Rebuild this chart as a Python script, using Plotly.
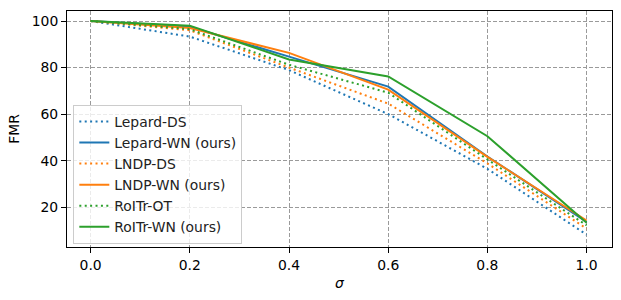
import plotly.graph_objects as go

sigma = [0.0, 0.2, 0.4, 0.6, 0.8, 1.0]
lepard_ds = [100, 93.3, 78.9, 60.0, 36.5, 8.2]
lepard_wn = [100, 97.5, 84.7, 71.8, 41.8, 13.7]
lndp_ds = [100, 96.0, 80.0, 64.5, 38.8, 10.8]
lndp_wn = [100, 97.0, 86.3, 70.5, 41.6, 14.3]
roitr_ot = [100, 96.5, 81.2, 69.2, 40.5, 12.2]
roitr_wn = [100, 98.0, 83.5, 76.2, 50.5, 13.3]

names = ["Lepard-DS", "Lepard-WN (ours)", "LNDP-DS", "LNDP-WN (ours)", "RoITr-OT", "RoITr-WN (ours)"]
series = [lepard_ds, lepard_wn, lndp_ds, lndp_wn, roitr_ot, roitr_wn]
colors = ["#1f77b4", "#1f77b4", "#ff7f0e", "#ff7f0e", "#2ca02c", "#2ca02c"]
dashes = ["2px,3.4px", "solid", "2px,3.4px", "solid", "2px,3.4px", "solid"]

FONT = "DejaVu Sans"
fig = go.Figure()
for n, s, c, d in zip(names, series, colors, dashes):
    fig.add_trace(go.Scatter(x=sigma, y=s, mode="lines", name=n,
                             line=dict(color=c, width=2, dash=d)))

axis_common = dict(
    showline=True, linecolor="black", linewidth=1, mirror=True,
    ticks="outside", ticklen=5, tickwidth=1, tickcolor="black",
    showgrid=True, gridcolor="#9a9a9a", gridwidth=0.6, griddash="4px,2px",
    zeroline=False, tickfont=dict(family=FONT, size=13.9, color="black"),
    automargin=False,
)
fig.update_xaxes(range=[-0.0476, 1.0512], tickvals=[0, 0.2, 0.4, 0.6, 0.8, 1.0],
                 ticktext=["0.0", "0.2", "0.4", "0.6", "0.8", "1.0"],
                 title=dict(text="<i>σ</i>", font=dict(family=FONT, size=13.9, color="black"), standoff=6),
                 **axis_common)
fig.update_yaxes(range=[2.9, 104.3], tickvals=[20, 40, 60, 80, 100],
                 title=dict(text="FMR", font=dict(family=FONT, size=13.9, color="black"), standoff=8),
                 **axis_common)

fig.update_layout(
    width=621, height=300,
    margin=dict(l=67, r=9, t=11, b=53, autoexpand=False),
    plot_bgcolor="white", paper_bgcolor="white",
    font=dict(family=FONT, size=13.9, color="black"),
    legend=dict(x=0.0116, y=0.013, xanchor="left", yanchor="bottom",
                bgcolor="rgba(255,255,255,0.8)", bordercolor="#cccccc", borderwidth=1,
                font=dict(family=FONT, size=13.9, color="#222222"),
                itemwidth=30, tracegroupgap=0),
)
fig.write_html("out.html", config={"displayModeBar": False},
               post_script="document.body.style.margin='0px';document.body.style.overflow='hidden';")
